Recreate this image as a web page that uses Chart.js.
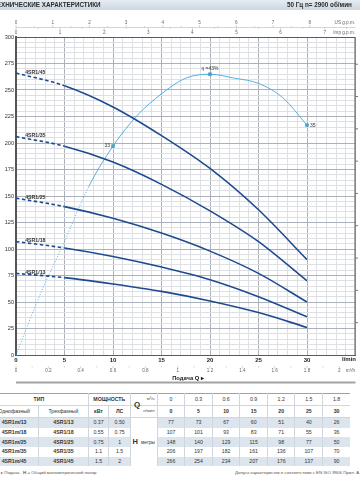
<!DOCTYPE html>
<html><head><meta charset="utf-8">
<script src="https://cdn.jsdelivr.net/npm/chart.js@4/dist/chart.umd.min.js"></script>
<style>
html,body{margin:0;padding:0;width:360px;height:480px;overflow:hidden;background:#fff;font-family:"Liberation Sans",Arial,sans-serif;}
#c{position:absolute;left:0;top:0;}
#t{position:absolute;left:-10px;top:393px;border-collapse:collapse;table-layout:fixed;font-size:5.2px;color:#333;border-top:1px solid #9aa3ad;}
#t td{padding:0;text-align:center;line-height:1;border-left:1px solid #cfd6de;overflow:hidden;white-space:nowrap;}
#t tr.h td{height:11px;border-bottom:1px solid #cfd6de;}
#t tr.d td{height:9.7px;}
#t tr.s td{background:#dce5ee;}
#t td.hc{background:#fff !important;font-size:4.8px;}
#t td.hc b{font-size:7.5px;margin-right:3px;}
#t td.qc{text-align:right;padding-right:2px;font-size:4.4px;color:#555;}
#q{position:absolute;left:134px;top:400px;font:bold 8px "Liberation Sans",Arial,sans-serif;color:#333;}
.fn{position:absolute;top:470px;font-size:4.4px;color:#555;white-space:nowrap;}
</style>
</head><body>
<canvas id="c" width="360" height="384"></canvas>
<table id="t"></table>
<div id="q">Q</div>
<div class="fn" style="left:1px">▸ Подача&nbsp;&nbsp; <b>H</b> = Общий манометрический напор</div>
<div class="fn" style="left:235px">Допуск характеристик в соответствии с EN ISO 9906 Прил. A</div>
<script>
// ---- data ----
const flowLpm = [0, 5, 10, 15, 20, 25, 30];
const flowM3h = ['0', '0.3', '0.6', '0.9', '1.2', '1.5', '1.8'];
const modelsSingle = ['4SR1m/13', '4SR1m/18', '4SR1m/25', '4SR1m/35', '4SR1m/45'];
const modelsThree = ['4SR1/13', '4SR1/18', '4SR1/25', '4SR1/35', '4SR1/45'];
const powerKW = ['0.37', '0.55', '0.75', '1.1', '1.5'];
const powerHP = ['0.50', '0.75', '1', '1.5', '2'];
const head13 = [77, 73, 67, 60, 51, 40, 26];
const head18 = [107, 101, 93, 83, 71, 55, 36];
const head25 = [148, 140, 129, 115, 98, 77, 50];
const head35 = [206, 197, 182, 161, 136, 107, 70];
const head45 = [266, 254, 234, 207, 176, 137, 90];
const effFlow = [0, 2.5, 5, 7.5, 10, 12.5, 15, 17.5, 20, 22.5, 25, 27.5, 30];
const effValues = [0, 9.3, 17.4, 25.8, 32.0, 36.7, 40.0, 42.4, 43.0, 42.4, 41.6, 39.4, 35.2];
const effMarks = [{q: 10, label: '33'}, {q: 20, label: 'η =43%'}, {q: 30, label: '35'}];
const usGpmTicks = [0, 1, 2, 3, 4, 5, 6, 7, 8];
const impGpmTicks = [0, 1, 2, 3, 4, 5, 6, 7];
const m3hTicks = ['0', '0.2', '0.4', '0.6', '0.8', '1', '1.2', '1.4', '1.6', '1.8', '2'];
const ftTicks = [100, 200, 300, 400, 500, 600, 700, 800, 900];

const heads = [head13, head18, head25, head35, head45];

// ---- table ----
(function(){
  const t = document.getElementById('t');
  let html = '<colgroup><col style="width:50px"><col style="width:51px"><col style="width:21px"><col style="width:22px"><col style="width:27px">' +
    '<col span="7" style="width:29px"></colgroup>';
  html += '<tr class="h"><td colspan="2" style="border-left:none"><b>ТИП</b></td><td colspan="2"><b>МОЩНОСТЬ</b></td><td class="qc">м³/ч</td>' +
    flowM3h.map(v => '<td>' + v + '</td>').join('') + '</tr>';
  html += '<tr class="h"><td style="border-left:none">Однофазный</td><td>Трехфазный</td><td><b>кВт</b></td><td><b>ЛС</b></td><td class="qc">л/мин</td>' +
    flowLpm.map(v => '<td><b>' + v + '</b></td>').join('') + '</tr>';
  for (let i = 0; i < 5; i++) {
    html += '<tr class="d' + (i % 2 === 0 ? ' s' : '') + '"><td style="border-left:none"><b>' + modelsSingle[i] + '</b></td><td><b>' + modelsThree[i] + '</b></td><td>' +
      powerKW[i] + '</td><td>' + powerHP[i] + '</td>' +
      (i === 0 ? '<td rowspan="5" class="hc"><b>H</b>метры</td>' : '') +
      heads[i].map(v => '<td>' + v + '</td>').join('') + '</tr>';
  }
  t.innerHTML = html;
})();

// ---- chart ----
Chart.defaults.font.family = '"Liberation Sans", Arial, sans-serif';
const PUMP = '#1f4b8e', EFF = '#45a7dc';
const names = modelsThree;

const extras = {
  id: 'extras',
  beforeDraw(chart) {
    const c = chart.ctx;
    c.save();
    const g = c.createLinearGradient(0, 0, 0, 10);
    g.addColorStop(0, '#e6ecf2'); g.addColorStop(1, '#cdd7e1');
    c.fillStyle = g; c.fillRect(0, 0, 360, 10);
    c.fillStyle = '#2b2b2b';
    c.font = 'bold 6.3px "Liberation Sans", Arial, sans-serif';
    c.textBaseline = 'alphabetic'; c.textAlign = 'left';
    const full = 'ТЕХНИЧЕСКИЕ ХАРАКТЕРИСТИКИ';
    c.fillText(full, 1 - c.measureText('ТЕ').width, 7.3);
    c.fillText('50 Гц', 287, 7.3);
    c.fillText('n= 2900 об/мин', 305, 7.3);
    c.restore();
  },
  beforeDatasetsDraw(chart) {
    const c = chart.ctx, xs = chart.scales.x, ys = chart.scales.y, a = chart.chartArea;
    c.save();
    c.strokeStyle = '#5a5a5a'; c.lineWidth = 1;
    c.strokeRect(a.left + 0.5, a.top + 0.5, a.right - a.left - 1, a.bottom - a.top);
    c.lineWidth = 2; c.strokeStyle = '#555';
    c.beginPath(); c.moveTo(a.left, a.top); c.lineTo(a.left, a.bottom); c.stroke();
    c.strokeStyle = '#bbb'; c.lineWidth = 0.6;
    c.beginPath(); c.moveTo(a.left, 27.5); c.lineTo(a.right, 27.5); c.stroke();
    c.fillStyle = '#666'; c.font = '4.6px "Liberation Sans", Arial, sans-serif';
    c.textAlign = 'center'; c.textBaseline = 'middle';
    for (let k = 0; k <= 16; k++) {
      const x = xs.getPixelForValue(k * 0.5 * 3.785);
      if (x > a.right - 2) break;
      c.beginPath(); c.moveTo(x, 27.5); c.lineTo(x, k % 2 ? 26 : 25); c.stroke();
    }
    for (let k = 0; k <= 15; k++) {
      const x = xs.getPixelForValue(k * 0.5 * 4.546);
      if (x > a.right - 2) break;
      c.beginPath(); c.moveTo(x, 27.5); c.lineTo(x, k % 2 ? 29 : 30); c.stroke();
    }
    usGpmTicks.forEach(v => c.fillText(String(v), xs.getPixelForValue(v * 3.785), 23));
    impGpmTicks.forEach(v => c.fillText(String(v), xs.getPixelForValue(v * 4.546), 32.5));
    c.textAlign = 'right';
    c.fillText('US g.p.m.', 355, 23);
    c.fillText('Imp g.p.m.', 355, 32.5);
    c.textAlign = 'center';
    for (let k = 0; k <= 20; k++) {
      const x = xs.getPixelForValue(k * 0.1 * 16.6667);
      c.beginPath(); c.moveTo(x, 366); c.lineTo(x, k % 2 ? 367.5 : 368.5); c.stroke();
    }
    m3hTicks.forEach(v => c.fillText(v, xs.getPixelForValue(parseFloat(v) * 16.6667), 371));
    c.textAlign = 'right';
    c.fillText('m³/h', 355, 371);
    c.fillStyle = '#222'; c.font = 'bold 6px "Liberation Sans", Arial, sans-serif';
    c.fillText('l/min', 356, 359.5);
    c.textAlign = 'center';
    c.font = 'bold 5.8px "Liberation Sans", Arial, sans-serif';
    c.fillText('Подача Q ▸', 188, 378);
    c.strokeStyle = '#a3a3a3'; c.lineWidth = 2;
    c.beginPath(); c.moveTo(a.left, 382.5); c.lineTo(a.right, 382.5); c.stroke();
    c.strokeStyle = '#555'; c.lineWidth = 0.8;
    ftTicks.forEach(f => {
      const y = ys.getPixelForValue(f * 0.3048);
      c.beginPath(); c.moveTo(a.right, y); c.lineTo(a.right + 2.5, y); c.stroke();
    });
    c.restore();
  },
  afterDatasetsDraw(chart) {
    const c = chart.ctx, xs = chart.scales.x, ys = chart.scales.y, ye = chart.scales.yEff;
    c.save();
    c.fillStyle = '#333'; c.font = 'bold 5.2px "Liberation Sans", Arial, sans-serif';
    c.textAlign = 'left'; c.textBaseline = 'alphabetic';
    heads.forEach((h, i) => {
      c.fillText(names[i], xs.getPixelForValue(0.95), ys.getPixelForValue(h[0]) + 0.5);
    });
    c.font = '5px "Liberation Sans", Arial, sans-serif';
    c.textBaseline = 'middle';
    effMarks.forEach(m => {
      const idx = effFlow.indexOf(m.q);
      const x = xs.getPixelForValue(m.q), y = ye.getPixelForValue(effValues[idx]);
      if (m.q === 10) { c.textAlign = 'right'; c.fillText(m.label, x - 3, y); }
      else if (m.q === 20) { c.textAlign = 'center'; c.fillText(m.label, x, y - 6); }
      else { c.textAlign = 'left'; c.fillText(m.label, x + 3, y); }
    });
    c.restore();
  }
};

const pumpSets = heads.map((h, i) => ({
  label: names[i],
  data: flowLpm.map((q, j) => ({x: q, y: h[j]})),
  borderColor: PUMP, borderWidth: 1.6, pointRadius: 0,
  cubicInterpolationMode: 'monotone', yAxisID: 'y',
  segment: { borderDash: ctx => ctx.p0.parsed.x < 5 ? [3.5, 2.5] : undefined }
}));
const markQs = effMarks.map(m => m.q);
const effSet = {
  label: 'η',
  data: effFlow.map((q, j) => ({x: q, y: effValues[j]})),
  borderColor: EFF, borderWidth: 0.9, yAxisID: 'yEff',
  cubicInterpolationMode: 'monotone',
  pointStyle: 'rect',
  pointRadius: ctx => markQs.includes(effFlow[ctx.dataIndex]) ? 2 : 0,
  pointBackgroundColor: EFF, pointBorderColor: '#2a7fb0', pointBorderWidth: 0.5,
  segment: { borderDash: ctx => ctx.p0.parsed.x < 7.5 ? [1, 1.8] : undefined }
};

new Chart(document.getElementById('c'), {
  type: 'line',
  data: { datasets: [...pumpSets, effSet] },
  options: {
    responsive: false, animation: false, devicePixelRatio: 1,
    layout: { padding: { top: 37, right: 4, left: 0, bottom: 0 } },
    plugins: { legend: { display: false }, tooltip: { enabled: false } },
    scales: {
      x: {
        type: 'linear', min: 0, max: 35,
        afterFit: s => { s.height = 29; },
        border: { display: true, color: '#555', width: 1 },
        grid: {
          drawTicks: false,
          color: ctx => ctx.tick && ctx.tick.value % 5 === 0 ? '#aab1ba' : '#dde1e6',
          lineWidth: 1
        },
        ticks: {
          stepSize: 1, autoSkip: false, maxRotation: 0, padding: 1.5, maxTicksLimit: 1000,
          color: '#222', font: { size: 6, weight: 'bold' },
          callback: v => (v % 5 === 0 && v <= 30) ? v : ''
        }
      },
      y: {
        type: 'linear', min: 0, max: 300,
        afterFit: s => { s.width = 16; },
        border: { display: true, color: '#555', width: 2 },
        grid: {
          drawTicks: false,
          color: ctx => ctx.tick && ctx.tick.value % 25 === 0 ? '#aab1ba' : '#dde1e6',
          lineWidth: 1
        },
        ticks: {
          stepSize: 5, autoSkip: false, padding: 2, maxTicksLimit: 1000,
          color: '#333', font: { size: 5.6 },
          callback: v => v % 25 === 0 ? v : ''
        }
      },
      yEff: { type: 'linear', min: 0, max: 48.7, display: false }
    }
  },
  plugins: [extras]
});
</script>
</body></html>
